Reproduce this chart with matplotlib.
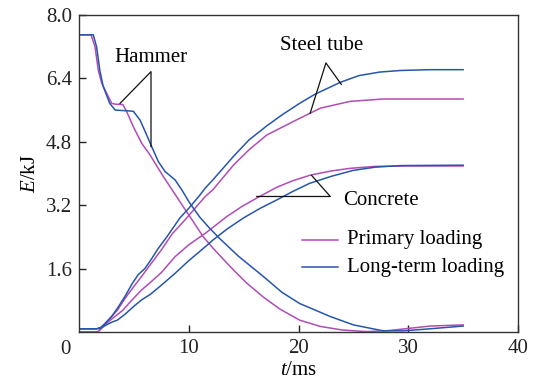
import matplotlib
matplotlib.use("Agg")
import matplotlib.pyplot as plt

plt.rcParams["font.family"] = ["Liberation Serif", "DejaVu Serif"]
plt.rcParams["mathtext.fontset"] = "custom"
plt.rcParams["mathtext.it"] = "Liberation Serif:italic"
plt.rcParams["mathtext.rm"] = "Liberation Serif"

PURPLE = "#B04CB6"
BLUE = "#2656AC"

# Hammer kinetic energy
hammer_primary_t = [0, 1.1, 1.46, 1.76, 2.07, 2.67, 2.98, 3.3, 4.0, 4.35, 4.95, 5.72, 6.47, 6.93,
                    7.69, 8.6, 9.5, 10.4, 11.3, 12.2, 13.2, 14.2, 15.3, 16.8, 18.3, 20.1, 22.0,
                    24.0, 26.2, 28.0, 30.0, 32.0, 35.0]
hammer_primary_e = [7.5, 7.5, 7.2, 6.6, 6.28, 5.94, 5.77, 5.75, 5.74, 5.56, 5.18, 4.76, 4.47, 4.26,
                    3.92, 3.54, 3.16, 2.79, 2.41, 2.12, 1.82, 1.53, 1.23, 0.88, 0.58, 0.30, 0.14,
                    0.05, 0.01, 0.03, 0.09, 0.15, 0.18]
hammer_long_t = [0, 1.3, 1.6, 1.9, 2.2, 2.8, 3.3, 4.5, 4.95, 5.56, 6.17, 6.62, 7.23, 7.84, 8.75,
                 9.36, 10.1, 11.0, 11.9, 12.85, 14.5, 16.8, 18.5, 20.1, 22.9, 25.0, 27.7, 29.5,
                 31.5, 35.0]
hammer_long_e = [7.5, 7.5, 7.2, 6.6, 6.2, 5.77, 5.6, 5.58, 5.57, 5.35, 4.97, 4.68, 4.30, 4.05,
                 3.84, 3.59, 3.25, 2.9, 2.62, 2.35, 1.92, 1.40, 1.00, 0.72, 0.39, 0.18, 0.03,
                 0.03, 0.07, 0.15]

# Steel tube internal energy
steel_primary_t = [0, 1.7, 2.0, 2.5, 3.0, 3.5, 4.2, 5.0, 5.7, 6.5, 7.5, 8.5, 9.66, 10.5, 11.5,
                   12.2, 14.1, 15.5, 17.1, 19.8, 22.0, 24.7, 27.7, 35.0]
steel_primary_e = [0.0, 0.0, 0.08, 0.25, 0.4, 0.55, 0.85, 1.15, 1.40, 1.70, 2.07, 2.48, 2.83,
                   3.1, 3.42, 3.59, 4.22, 4.6, 4.97, 5.35, 5.65, 5.82, 5.88, 5.88]
steel_long_t = [0, 1.6, 2.0, 2.5, 3.0, 3.6, 4.3, 4.8, 5.4, 6.0, 6.5, 7.2, 8.0, 8.5, 9.2, 10.0,
                11.0, 11.5, 12.2, 14.1, 15.5, 17.1, 18.5, 20.1, 21.5, 23.8, 25.5, 27.4, 29.3, 32.0,
                35.0]
steel_long_e = [0.08, 0.08, 0.12, 0.25, 0.4, 0.64, 0.95, 1.2, 1.45, 1.6, 1.8, 2.1, 2.4, 2.6, 2.88,
                3.12, 3.45, 3.63, 3.84, 4.44, 4.85, 5.2, 5.48, 5.77, 6.0, 6.3, 6.47, 6.56, 6.6,
                6.62, 6.62]

# Concrete internal energy
concrete_primary_t = [0, 1.7, 2.0, 2.5, 3.0, 4.0, 4.8, 5.7, 6.5, 7.5, 8.75, 10.0, 11.5, 12.2,
                      13.5, 14.8, 16.2, 18.0, 19.5, 21.1, 22.9, 24.7, 27.0, 30.0, 35.0]
concrete_primary_e = [0.0, 0.0, 0.08, 0.22, 0.33, 0.55, 0.8, 1.06, 1.25, 1.5, 1.9, 2.2, 2.49,
                      2.64, 2.92, 3.16, 3.38, 3.65, 3.82, 3.96, 4.06, 4.13, 4.18, 4.19, 4.19]
concrete_long_t = [0, 1.6, 2.0, 2.5, 3.0, 3.5, 4.2, 5.0, 5.7, 6.5, 7.5, 8.75, 10.0, 11.5, 12.2,
                   13.5, 15.0, 16.5, 18.0, 19.5, 21.0, 23.0, 25.0, 27.0, 29.3, 35.0]
concrete_long_e = [0.08, 0.08, 0.1, 0.18, 0.25, 0.3, 0.45, 0.65, 0.81, 0.95, 1.18, 1.48, 1.8,
                   2.15, 2.32, 2.6, 2.88, 3.12, 3.33, 3.55, 3.75, 3.93, 4.08, 4.16, 4.2, 4.21]

x_ticks = [10, 20, 30, 40]
y_ticks = [1.6, 3.2, 4.8, 6.4, 8.0]

fig = plt.figure(figsize=(5.33, 3.88), dpi=100)
ax = fig.add_axes([79 / 533, 1 - 332 / 388, (518 - 79) / 533, (332 - 15) / 388])

lw = 1.1
ax.plot(hammer_primary_t, hammer_primary_e, color=PURPLE, lw=lw)
ax.plot(steel_primary_t, steel_primary_e, color=PURPLE, lw=lw)
ax.plot(concrete_primary_t, concrete_primary_e, color=PURPLE, lw=lw)
ax.plot(hammer_long_t, hammer_long_e, color=BLUE, lw=lw)
ax.plot(steel_long_t, steel_long_e, color=BLUE, lw=lw)
ax.plot(concrete_long_t, concrete_long_e, color=BLUE, lw=lw)

ax.set_xlim(0, 40)
ax.set_ylim(0, 8.0)
ax.set_xticks(x_ticks)
ax.set_xticklabels([str(v) for v in x_ticks])
ax.set_yticks(y_ticks)
ax.set_yticklabels([f"{v:.1f}" for v in y_ticks])
ax.tick_params(direction="in", length=5, width=1, labelsize=15, pad=5, colors="#222222")
for s in ax.spines.values():
    s.set_linewidth(1.0)
    s.set_color("#333333")

# shared origin label
ax.text(-0.018, -0.026, "0", transform=ax.transAxes, ha="right", va="top", fontsize=15,
        color="#222222")

ax.set_xlabel(r"$t$/ms", fontsize=15, labelpad=2)
ax.set_ylabel(r"$E$/kJ", fontsize=15, labelpad=4)

# callouts
lc = "#111111"
ax.plot([3.74, 6.56, 6.56], [5.77, 6.57, 4.68], color=lc, lw=0.9)
ax.text(6.56, 6.94, "Hammer", ha="center", va="center", fontsize=15)
ax.plot([21.06, 22.5, 23.9], [5.52, 6.79, 6.25], color=lc, lw=0.9)
ax.text(22.1, 7.22, "Steel tube", ha="center", va="center", fontsize=15)
ax.plot([16.2, 22.9, 21.2], [3.42, 3.42, 3.95], color=lc, lw=0.9)
ax.text(24.1, 3.33, "Concrete", ha="left", va="center", fontsize=15)

# legend
ax.plot([20.3, 23.6], [2.33, 2.33], color=PURPLE, lw=lw)
ax.plot([20.3, 23.6], [1.64, 1.64], color=BLUE, lw=lw)
ax.text(24.4, 2.33, "Primary loading", ha="left", va="center", fontsize=15)
ax.text(24.4, 1.64, "Long-term loading", ha="left", va="center", fontsize=15)

fig.savefig("out.png", dpi=100)
